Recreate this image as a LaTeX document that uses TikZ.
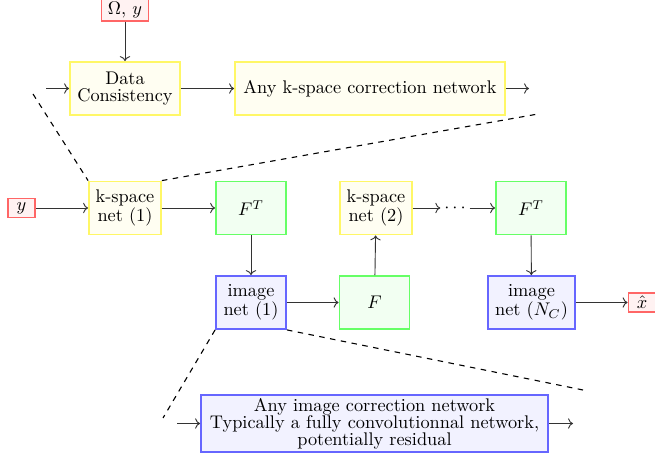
\documentclass[tikz,border=0pt]{standalone}
\usetikzlibrary{arrows.meta}
\begin{document}
\def\u{0.546pt}
\begin{tikzpicture}[x=0.546pt,y=-0.546pt,
  box/.style={draw, line width=1pt, minimum height=53*0.546pt, inner sep=1pt, align=center, font=\fontsize{10}{9.2}\selectfont},
  kbox/.style={box, draw=yellow!60, fill=yellow!5},
  gbox/.style={box, draw=green!60, fill=green!5},
  ibox/.style={box, draw=blue!60, fill=blue!5},
  iobox/.style={draw=red!60, fill=red!5, line width=1pt, inner sep=1.5pt, minimum height=19*0.546pt, minimum width=27*0.546pt},
  conn/.style={->, black!80, line width=0.5pt},
  zoomline/.style={dashed, black, line width=0.6pt}]
\useasboundingbox (0,0) rectangle (655,457);
% top
\node[iobox, minimum width=47*\u, minimum height=21*\u] (omega) at (125,10) {$\Omega,\, y$};
\node[kbox, minimum width=110*\u] (dc) at (125,88.5) {Data\\Consistency};
\node[kbox, minimum width=270*\u] (anyk) at (370,88.5) {Any k-space correction network};
\coordinate (dcin) at (46,88.5);
\coordinate (anykout) at (529,88.5);
\draw[conn] (omega) -- (dc);
\draw[conn] (dcin) -- (dc);
\draw[conn] (dc) -- (anyk);
\draw[conn] (anyk) -- (anykout);
% middle
\node[iobox] (y) at (21.5,208) {$y$};
\node[kbox, minimum width=72*\u] (k1) at (125,208) {k-space\\net (1)};
\node[gbox, minimum width=70*\u] (ft1) at (251,208) {$F^T$};
\node[kbox, minimum width=72*\u] (k2) at (376,208) {k-space\\net (2)};
\node[inner sep=2pt] (dots) at (455,208) {$\cdots$};
\node[gbox, minimum width=70*\u] (ft2) at (531,208) {$F^T$};
\node[ibox, minimum width=70*\u] (i1) at (251,302.5) {image\\net (1)};
\node[gbox, minimum width=70*\u] (f) at (374.5,302.5) {$F$};
\node[ibox, minimum width=87*\u] (inc) at (531.5,302.5) {image\\net ($N_C$)};
\node[iobox] (xhat) at (642,302.5) {$\hat{x}$};
\draw[conn] (y) -- (k1);
\draw[conn] (k1) -- (ft1);
\draw[conn] (ft1) -- (i1);
\draw[conn] (i1) -- (f);
\draw[conn] (f) -- (k2);
\draw[conn] (k2) -- (dots);
\draw[conn] (dots) -- (ft2);
\draw[conn] (ft2) -- (inc);
\draw[conn] (inc) -- (xhat);
% bottom
\node[ibox, minimum width=347*\u, minimum height=57*\u] (big) at (374.5,423.5) {Any image correction network\\Typically a fully convolutionnal network,\\potentially residual};
\coordinate (bigin) at (177,423.5);
\coordinate (bigout) at (573,423.5);
\draw[conn] (bigin) -- (big);
\draw[conn] (big) -- (bigout);
% zoom lines
\coordinate (z1a) at (33,94);
\coordinate (z1b) at (538,114);
\coordinate (z2a) at (163,418);
\coordinate (z2b) at (583,390);
\draw[zoomline] (z1a) -- (k1.north west);
\draw[zoomline] (k1.north east) -- (z1b);
\draw[zoomline] (i1.south west) -- (z2a);
\draw[zoomline] (i1.south east) -- (z2b);
\end{tikzpicture}
\end{document}
